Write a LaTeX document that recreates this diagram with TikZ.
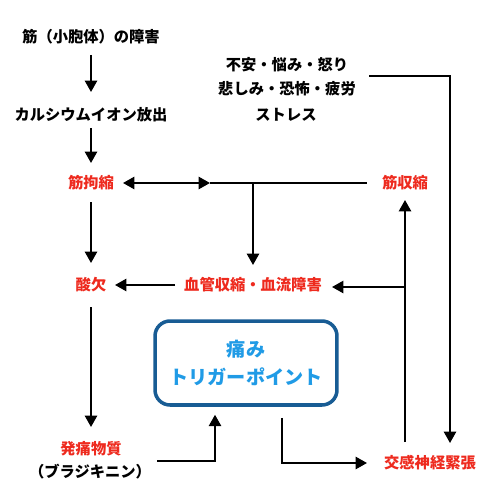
\documentclass[tikz,border=0pt]{standalone}
\usepackage{fontspec}
\setmainfont{Noto Sans CJK JP}
\usetikzlibrary{arrows.meta,calc}
\definecolor{jred}{RGB}{238,42,30}
\definecolor{jblue}{RGB}{32,155,230}
\definecolor{jbox}{RGB}{24,92,148}
\begin{document}
\begin{tikzpicture}[x=0.02cm,y=-0.02cm,
  lbl/.style={inner sep=0pt, font=\fontsize{8.7}{10}\selectfont\bfseries},
  redlbl/.style={lbl, text=jred},
  arr/.style={line width=1.1pt, -{Triangle[width=7pt,length=6.5pt]}},
  darr/.style={line width=1.1pt, {Triangle[width=7pt,length=6.5pt]}-{Triangle[width=7pt,length=6.5pt]}},
  ln/.style={line width=1.1pt},
  tpbox/.style={draw=jbox, line width=2pt, rounded corners=0.3cm, minimum width=3.64cm, minimum height=1.68cm, align=center, text=jblue, font=\fontsize{10.9}{16.4}\selectfont\bfseries}]
\fill[white] (0,0) rectangle (500,500);
\useasboundingbox (0,0) rectangle (500,500);

\node[lbl] (n1) at (91,37) {筋（小胞体）の障害};
\node[lbl] (n2) at (91,115) {カルシウムイオン放出};
\node[redlbl] (n3) at (91,183) {筋拘縮};
\node[redlbl] (n4) at (405,183) {筋収縮};
\node[lbl] (s1) at (287,65) {不安・悩み・怒り};
\node[lbl] (s2) at (287,89) {悲しみ・恐怖・疲労};
\node[lbl] (s3) at (286,115) {ストレス};
\node[redlbl] (n5) at (91,285) {酸欠};
\node[redlbl] (n6) at (253,285) {血管収縮・血流障害};
\node[tpbox] (box) at (246,363) {痛み\\トリガーポイント};
\node[redlbl] (n7) at (91,449) {発痛物質};
\node[lbl] (n7b) at (90,472) {（ブラジキニン）};
\node[redlbl] (n8) at (430,463) {交感神経緊張};

\coordinate (J1) at (210,183);
\coordinate (J2) at (253,183);
\coordinate (J3) at (405,287);

\draw[arr] ($(n1)+(0,18)$) -- ($(n2)+(0,-23)$);
\draw[arr] ($(n2)+(0,13)$) -- ($(n3)+(0,-20)$);
\draw[darr] ($(n3)+(32,0)$) -- (J1);
\draw[ln] (J1) -- ($(n4)+(-38,0)$);
\draw[arr] (J2) -- ($(n6)+(0,-20)$);
\draw[arr] ($(n3)+(0,19)$) -- ($(n5)+(0,-22)$);
\draw[arr] ($(n6)+(-78,0)$) -- ($(n5)+(24,0)$);
\draw[arr] ($(n5)+(0,22)$) -- ($(n7)+(0,-22)$);
\draw[arr] ($(n7b)+(67,-11)$) -| ($(box.south)+(-31,8)$);
\draw[arr] ($(box.south)+(36,11)$) |- ($(n8)+(-63,0)$);
\draw[arr] ($(n8)+(-25,-21)$) -- ($(n4)+(0,17)$);
\draw[arr] (J3) -- ($(n6)+(79,2)$);
\draw[arr] ($(s1)+(82,11)$) -| ($(n8)+(20,-20)$);
\end{tikzpicture}
\end{document}
